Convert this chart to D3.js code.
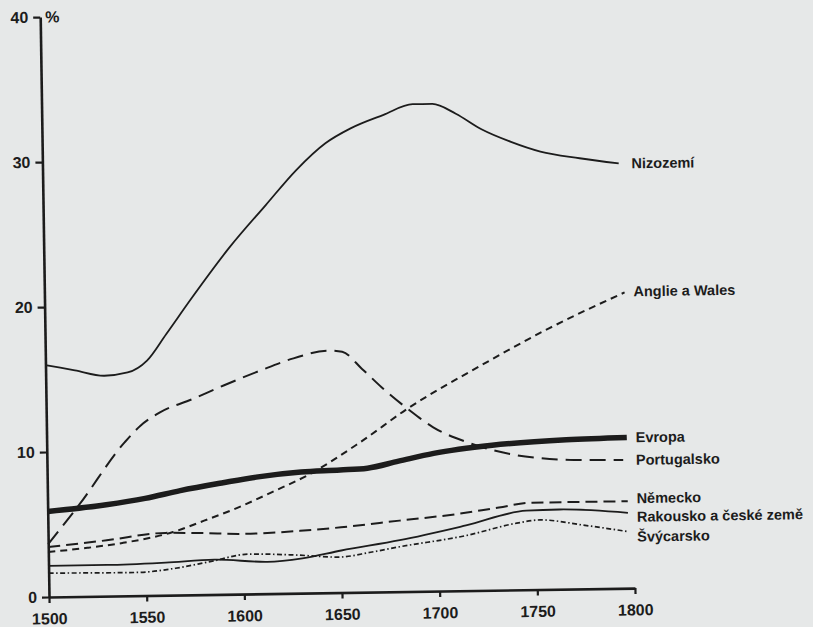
<!DOCTYPE html>
<html>
<head>
<meta charset="utf-8">
<script src="https://cdn.jsdelivr.net/npm/d3@7"></script>
<style>
  body { margin: 0; background: #e6e8e8; }
  svg { display: block; }
  text { font-family: "Liberation Sans", Arial, Helvetica, sans-serif; font-weight: bold; fill: #1c1c1c; }
</style>
</head>
<body>
<div id="chart"></div>
<script>
// values: [year, percent]
var nizozemi = [[1500,16.0],[1515,15.6],[1530,15.2],[1542,15.4],[1552,16.2],[1562,18.0],[1575,20.4],[1595,23.9],[1614,26.8],[1630,29.2],[1645,31.0],[1658,32.0],[1675,32.9],[1690,33.6],[1700,33.6],[1712,32.9],[1725,31.8],[1740,30.9],[1755,30.2],[1775,29.7],[1795,29.3]];
var anglie = [[1500,3.1],[1520,3.35],[1538,3.65],[1564,4.35],[1580,5.1],[1598,6.0],[1615,7.0],[1633,8.1],[1660,10.3],[1686,12.7],[1720,15.3],[1758,18.0],[1797,20.4]];
var evropa = [[1500,5.9],[1530,6.3],[1550,6.7],[1568,7.2],[1590,7.7],[1607,8.05],[1630,8.35],[1650,8.45],[1664,8.55],[1680,9.0],[1698,9.5],[1728,10.0],[1766,10.3],[1797,10.4]];
var portugalsko = [[1500,3.65],[1516,6.3],[1540,10.6],[1548,11.7],[1558,12.6],[1575,13.5],[1591,14.4],[1610,15.4],[1627,16.2],[1645,16.7],[1652,16.6],[1662,15.4],[1672,14.1],[1686,12.5],[1698,11.3],[1715,10.25],[1740,9.3],[1752,9.07],[1770,8.9],[1795,8.85]];
var nemecko = [[1500,3.45],[1530,3.85],[1560,4.3],[1578,4.25],[1600,4.15],[1629,4.3],[1650,4.5],[1680,4.9],[1710,5.3],[1731,5.7],[1748,6.0],[1770,6.0],[1797,6.0]];
var rakousko = [[1500,2.15],[1530,2.15],[1560,2.25],[1585,2.4],[1612,2.2],[1630,2.4],[1650,2.9],[1680,3.55],[1714,4.5],[1745,5.45],[1762,5.5],[1797,5.2]];
var svycarsko = [[1500,1.65],[1545,1.6],[1565,1.85],[1582,2.25],[1603,2.75],[1625,2.65],[1649,2.45],[1665,2.75],[1680,3.1],[1714,3.8],[1740,4.6],[1752,4.8],[1774,4.4],[1797,3.9]];

var seriesNames = ["Nizozemí", "Anglie a Wales", "Evropa", "Portugalsko", "Německo", "Rakousko a české země", "Švýcarsko"];
var seriesValues = [nizozemi, anglie, evropa, portugalsko, nemecko, rakousko, svycarsko];

var yTicks = [0, 10, 20, 30, 40];
var xTicks = [1500, 1550, 1600, 1650, 1700, 1750, 1800];

// line look per series (shift = nudge of the end label, px)
var lineStyle = {
  "Nizozemí":              {width: 1.8, dash: null, shift: 0},
  "Anglie a Wales":        {width: 2,   dash: "7,5", shift: -1},
  "Evropa":                {width: 5.5, dash: null, shift: 0},
  "Portugalsko":           {width: 2,   dash: "16,8", shift: 0},
  "Německo":               {width: 2,   dash: "12,6", shift: -3},
  "Rakousko a české země": {width: 1.8, dash: null, shift: 4},
  "Švýcarsko":             {width: 1.7, dash: "5,2.5,1.5,2.5", shift: 5}
};

var margin = {top: 17, left: 49};
var width = 586, height = 580;

var svg = d3.select("#chart").append("svg")
  .attr("width", 813)
  .attr("height", 627);

// the photographed page is slightly tilted
var g = svg.append("g")
  .attr("transform", "rotate(-0.87," + margin.left + "," + (margin.top + height) + ") translate(" + margin.left + "," + margin.top + ")");

var x = d3.scaleLinear().domain([1500, 1800]).range([0, width]);
var y = d3.scaleLinear().domain([0, 40]).range([height, 0]);

var line = d3.line()
  .x(function(d) { return x(d[0]); })
  .y(function(d) { return y(d[1]); })
  .curve(d3.curveMonotoneX);

// axes
var yAxis = d3.axisLeft(y).tickValues(yTicks).tickSize(7).tickSizeOuter(0).tickPadding(5);
var xAxis = d3.axisBottom(x).tickValues(xTicks).tickFormat(d3.format("d"))
  .tickSize(6).tickSizeOuter(0).tickPadding(10);

g.append("g").attr("class", "axis y-axis").call(yAxis);
g.append("g").attr("class", "axis x-axis")
  .attr("transform", "translate(0," + height + ")")
  .call(xAxis);

g.selectAll(".axis path").attr("stroke", "#1c1c1c").attr("stroke-width", 2.6);
g.selectAll(".axis line").attr("stroke", "#1c1c1c").attr("stroke-width", 2.2);
g.selectAll(".axis text").style("font-size", "16px").attr("fill", "#1c1c1c");

g.append("text")
  .attr("x", 5)
  .attr("y", y(40))
  .attr("dy", "0.35em")
  .style("font-size", "16px")
  .text("%");

// lines
seriesNames.forEach(function(name, i) {
  var st = lineStyle[name];
  g.append("path")
    .datum(seriesValues[i])
    .attr("fill", "none")
    .attr("stroke", "#1c1c1c")
    .attr("stroke-width", st.width)
    .attr("stroke-dasharray", st.dash)
    .attr("d", line);

  var last = seriesValues[i][seriesValues[i].length - 1];
  g.append("text")
    .attr("x", x(1800) + 3)
    .attr("y", y(last[1]) + st.shift)
    .attr("dy", "0.35em")
    .style("font-size", "14.5px")
    .text(name);
});
</script>
</body>
</html>
